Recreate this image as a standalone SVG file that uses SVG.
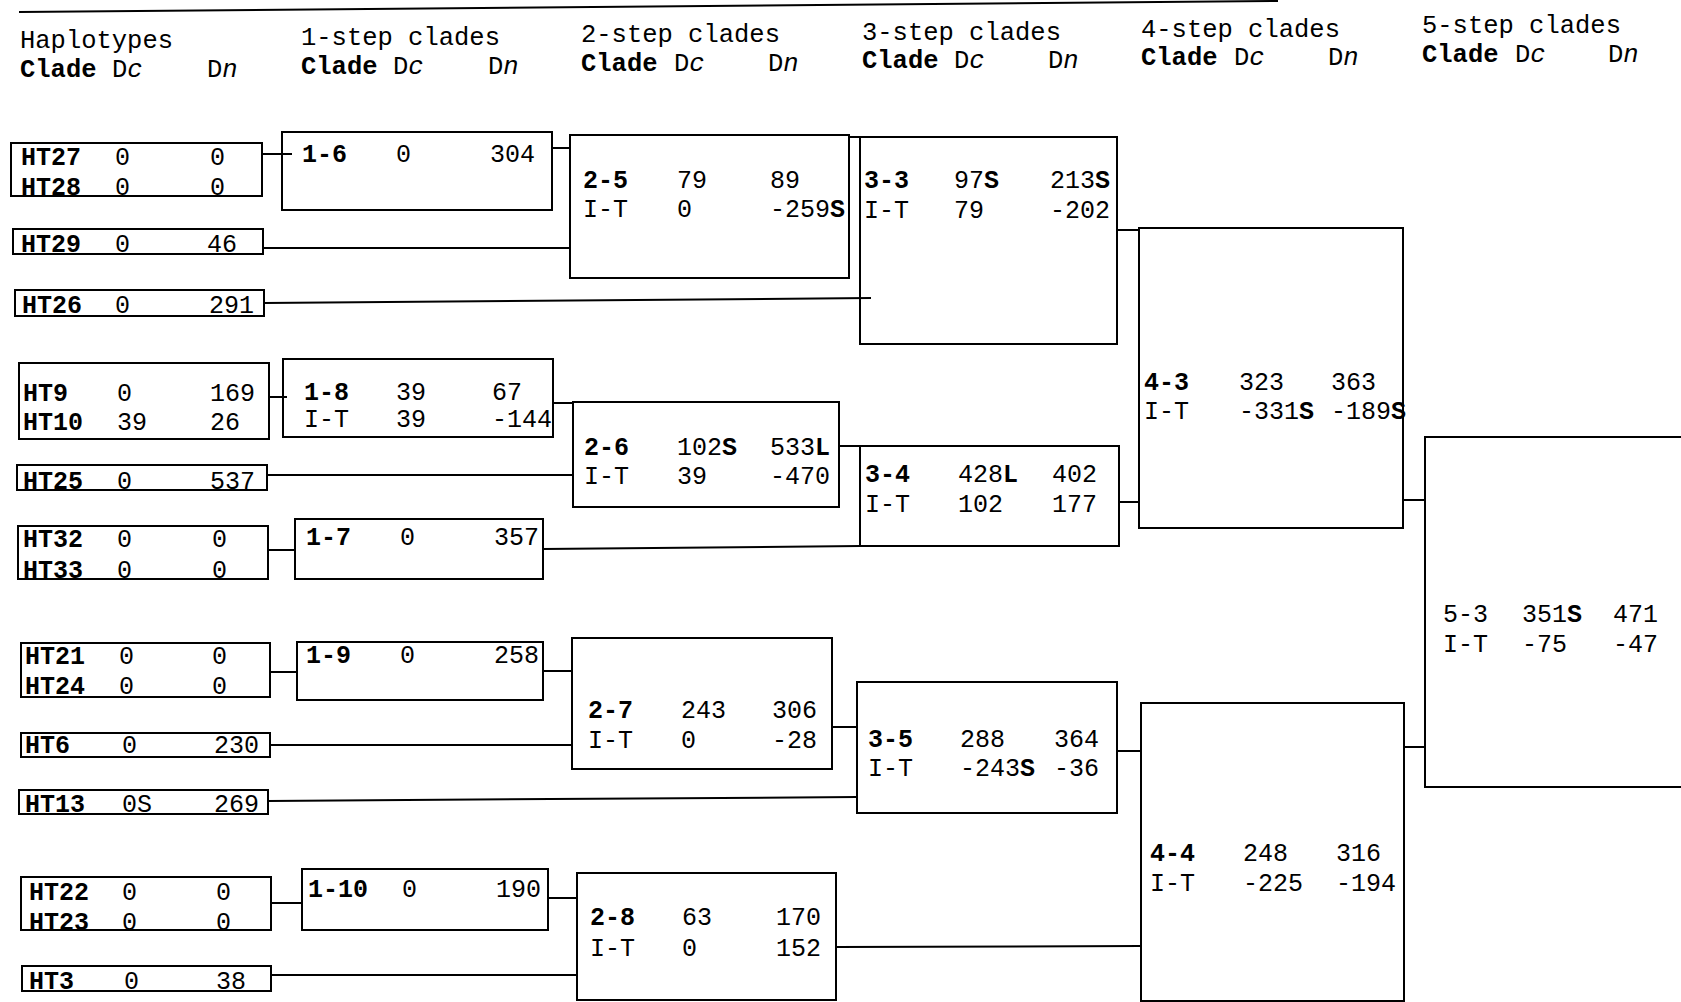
<svg xmlns="http://www.w3.org/2000/svg" width="1681" height="1002" viewBox="0 0 1681 1002">
<style>
  .bx{fill:none;stroke:#000;stroke-width:2}
  .cn line{stroke:#000;stroke-width:2}
  text{font-family:"Liberation Mono","Courier New",monospace;font-size:25px;fill:#000}
  .h{font-size:25.5px}
  .b{font-weight:bold}
  .i{font-style:italic}
</style>
<rect width="1681" height="1002" fill="#fff"/>
<line x1="19" y1="12" x2="1278" y2="1" stroke="#000" stroke-width="2"/>

<g id="headers">
  <text class="h" x="20" y="48">Haplotypes</text>
  <text class="h" y="77"><tspan class="b" x="20">Clade</tspan><tspan x="112">D<tspan class="i">c</tspan></tspan><tspan x="207">D<tspan class="i">n</tspan></tspan></text>
  <text class="h" x="301" y="45">1-step clades</text>
  <text class="h" y="74"><tspan class="b" x="301">Clade</tspan><tspan x="393">D<tspan class="i">c</tspan></tspan><tspan x="488">D<tspan class="i">n</tspan></tspan></text>
  <text class="h" x="581" y="42">2-step clades</text>
  <text class="h" y="71"><tspan class="b" x="581">Clade</tspan><tspan x="674">D<tspan class="i">c</tspan></tspan><tspan x="768">D<tspan class="i">n</tspan></tspan></text>
  <text class="h" x="862" y="40">3-step clades</text>
  <text class="h" y="68"><tspan class="b" x="862">Clade</tspan><tspan x="954">D<tspan class="i">c</tspan></tspan><tspan x="1048">D<tspan class="i">n</tspan></tspan></text>
  <text class="h" x="1141" y="37">4-step clades</text>
  <text class="h" y="65"><tspan class="b" x="1141">Clade</tspan><tspan x="1234">D<tspan class="i">c</tspan></tspan><tspan x="1328">D<tspan class="i">n</tspan></tspan></text>
  <text class="h" x="1422" y="33">5-step clades</text>
  <text class="h" y="62"><tspan class="b" x="1422">Clade</tspan><tspan x="1515">D<tspan class="i">c</tspan></tspan><tspan x="1608">D<tspan class="i">n</tspan></tspan></text>
</g>

<g id="connectors" class="cn">
  <line x1="262" y1="154" x2="292" y2="154"/>
  <line x1="269" y1="397" x2="287" y2="397"/>
  <line x1="268" y1="550" x2="295" y2="550"/>
  <line x1="270" y1="672" x2="297" y2="672"/>
  <line x1="271" y1="903" x2="302" y2="903"/>
  <line x1="552" y1="148" x2="570" y2="148"/>
  <line x1="263" y1="248" x2="570" y2="248"/>
  <line x1="553" y1="403" x2="574" y2="403"/>
  <line x1="267" y1="475" x2="573" y2="475"/>
  <line x1="543" y1="671" x2="572" y2="671"/>
  <line x1="270" y1="745" x2="572" y2="745"/>
  <line x1="548" y1="898" x2="577" y2="898"/>
  <line x1="271" y1="975" x2="577" y2="975"/>
  <line x1="849" y1="137" x2="872" y2="137"/>
  <line x1="264" y1="303" x2="871" y2="298"/>
  <line x1="839" y1="446" x2="864" y2="446"/>
  <line x1="543" y1="549" x2="860" y2="546"/>
  <line x1="832" y1="727" x2="858" y2="727"/>
  <line x1="268" y1="801" x2="857" y2="797"/>
  <line x1="1117" y1="230" x2="1139" y2="230"/>
  <line x1="1119" y1="502" x2="1140" y2="502"/>
  <line x1="1117" y1="751" x2="1141" y2="751"/>
  <line x1="836" y1="947" x2="1141" y2="946"/>
  <line x1="1404" y1="500" x2="1425" y2="500"/>
  <line x1="1404" y1="747" x2="1425" y2="747"/>
</g>

<!-- Haplotypes -->
<g id="n-HT27-HT28">
  <rect class="bx" x="11" y="143" width="251" height="53"/>
  <text y="165"><tspan class="b" x="21">HT27</tspan><tspan x="115">0</tspan><tspan x="210">0</tspan></text>
  <text y="195"><tspan class="b" x="21">HT28</tspan><tspan x="115">0</tspan><tspan x="210">0</tspan></text>
</g>
<g id="n-HT29">
  <rect class="bx" x="13" y="229" width="250" height="25"/>
  <text y="252"><tspan class="b" x="21">HT29</tspan><tspan x="115">0</tspan><tspan x="207">46</tspan></text>
</g>
<g id="n-HT26">
  <rect class="bx" x="15" y="290" width="249" height="26"/>
  <text y="313"><tspan class="b" x="22">HT26</tspan><tspan x="115">0</tspan><tspan x="209">291</tspan></text>
</g>
<g id="n-HT9-HT10">
  <rect class="bx" x="19" y="363" width="250" height="76"/>
  <text y="401"><tspan class="b" x="23">HT9</tspan><tspan x="117">0</tspan><tspan x="210">169</tspan></text>
  <text y="430"><tspan class="b" x="23">HT10</tspan><tspan x="117">39</tspan><tspan x="210">26</tspan></text>
</g>
<g id="n-HT25">
  <rect class="bx" x="17" y="465" width="250" height="25"/>
  <text y="489"><tspan class="b" x="23">HT25</tspan><tspan x="117">0</tspan><tspan x="210">537</tspan></text>
</g>
<g id="n-HT32-HT33">
  <rect class="bx" x="18" y="526" width="250" height="53"/>
  <text y="547"><tspan class="b" x="23">HT32</tspan><tspan x="117">0</tspan><tspan x="212">0</tspan></text>
  <text y="578"><tspan class="b" x="23">HT33</tspan><tspan x="117">0</tspan><tspan x="212">0</tspan></text>
</g>
<g id="n-HT21-HT24">
  <rect class="bx" x="21" y="643" width="249" height="54"/>
  <text y="664"><tspan class="b" x="25">HT21</tspan><tspan x="119">0</tspan><tspan x="212">0</tspan></text>
  <text y="694"><tspan class="b" x="25">HT24</tspan><tspan x="119">0</tspan><tspan x="212">0</tspan></text>
</g>
<g id="n-HT6">
  <rect class="bx" x="21" y="733" width="249" height="24"/>
  <text y="753"><tspan class="b" x="25">HT6</tspan><tspan x="122">0</tspan><tspan x="214">230</tspan></text>
</g>
<g id="n-HT13">
  <rect class="bx" x="19" y="790" width="249" height="24"/>
  <text y="812"><tspan class="b" x="25">HT13</tspan><tspan x="122">0S</tspan><tspan x="214">269</tspan></text>
</g>
<g id="n-HT22-HT23">
  <rect class="bx" x="21" y="877" width="250" height="53"/>
  <text y="900"><tspan class="b" x="29">HT22</tspan><tspan x="122">0</tspan><tspan x="216">0</tspan></text>
  <text y="930"><tspan class="b" x="29">HT23</tspan><tspan x="122">0</tspan><tspan x="216">0</tspan></text>
</g>
<g id="n-HT3">
  <rect class="bx" x="22" y="966" width="249" height="25"/>
  <text y="989"><tspan class="b" x="29">HT3</tspan><tspan x="124">0</tspan><tspan x="216">38</tspan></text>
</g>

<!-- 1-step -->
<g id="n-1-6">
  <rect class="bx" x="282" y="132" width="270" height="78"/>
  <text y="162"><tspan class="b" x="302">1-6</tspan><tspan x="396">0</tspan><tspan x="490">304</tspan></text>
</g>
<g id="n-1-8">
  <rect class="bx" x="283" y="359" width="270" height="78"/>
  <text y="400"><tspan class="b" x="304">1-8</tspan><tspan x="396">39</tspan><tspan x="492">67</tspan></text>
  <text y="427"><tspan x="304">I-T</tspan><tspan x="396">39</tspan><tspan x="492">-144</tspan></text>
</g>
<g id="n-1-7">
  <rect class="bx" x="295" y="519" width="248" height="60"/>
  <text y="545"><tspan class="b" x="306">1-7</tspan><tspan x="400">0</tspan><tspan x="494">357</tspan></text>
</g>
<g id="n-1-9">
  <rect class="bx" x="297" y="642" width="246" height="58"/>
  <text y="663"><tspan class="b" x="306">1-9</tspan><tspan x="400">0</tspan><tspan x="494">258</tspan></text>
</g>
<g id="n-1-10">
  <rect class="bx" x="302" y="869" width="246" height="61"/>
  <text y="897"><tspan class="b" x="308">1-10</tspan><tspan x="402">0</tspan><tspan x="496">190</tspan></text>
</g>

<!-- 2-step -->
<g id="n-2-5">
  <rect class="bx" x="570" y="135" width="279" height="143"/>
  <text y="188"><tspan class="b" x="583">2-5</tspan><tspan x="677">79</tspan><tspan x="770">89</tspan></text>
  <text y="217"><tspan x="583">I-T</tspan><tspan x="677">0</tspan><tspan x="770">-259<tspan class="b">S</tspan></tspan></text>
</g>
<g id="n-2-6">
  <rect class="bx" x="573" y="402" width="266" height="105"/>
  <text y="455"><tspan class="b" x="584">2-6</tspan><tspan x="677">102<tspan class="b">S</tspan></tspan><tspan x="770">533<tspan class="b">L</tspan></tspan></text>
  <text y="484"><tspan x="584">I-T</tspan><tspan x="677">39</tspan><tspan x="770">-470</tspan></text>
</g>
<g id="n-2-7">
  <rect class="bx" x="572" y="638" width="260" height="131"/>
  <text y="718"><tspan class="b" x="588">2-7</tspan><tspan x="681">243</tspan><tspan x="772">306</tspan></text>
  <text y="748"><tspan x="588">I-T</tspan><tspan x="681">0</tspan><tspan x="772">-28</tspan></text>
</g>
<g id="n-2-8">
  <rect class="bx" x="577" y="873" width="259" height="127"/>
  <text y="925"><tspan class="b" x="590">2-8</tspan><tspan x="682">63</tspan><tspan x="776">170</tspan></text>
  <text y="956"><tspan x="590">I-T</tspan><tspan x="682">0</tspan><tspan x="776">152</tspan></text>
</g>

<!-- 3-step -->
<g id="n-3-3">
  <rect class="bx" x="860" y="137" width="257" height="207"/>
  <text y="188"><tspan class="b" x="864">3-3</tspan><tspan x="954">97<tspan class="b">S</tspan></tspan><tspan x="1050">213<tspan class="b">S</tspan></tspan></text>
  <text y="218"><tspan x="864">I-T</tspan><tspan x="954">79</tspan><tspan x="1050">-202</tspan></text>
</g>
<g id="n-3-4">
  <rect class="bx" x="860" y="446" width="259" height="100"/>
  <text y="482"><tspan class="b" x="865">3-4</tspan><tspan x="958">428<tspan class="b">L</tspan></tspan><tspan x="1052">402</tspan></text>
  <text y="512"><tspan x="865">I-T</tspan><tspan x="958">102</tspan><tspan x="1052">177</tspan></text>
</g>
<g id="n-3-5">
  <rect class="bx" x="857" y="682" width="260" height="131"/>
  <text y="747"><tspan class="b" x="868">3-5</tspan><tspan x="960">288</tspan><tspan x="1054">364</tspan></text>
  <text y="776"><tspan x="868">I-T</tspan><tspan x="960">-243<tspan class="b">S</tspan></tspan><tspan x="1054">-36</tspan></text>
</g>

<!-- 4-step -->
<g id="n-4-3">
  <rect class="bx" x="1139" y="228" width="264" height="300"/>
  <text y="390"><tspan class="b" x="1144">4-3</tspan><tspan x="1239">323</tspan><tspan x="1331">363</tspan></text>
  <text y="419"><tspan x="1144">I-T</tspan><tspan x="1239">-331<tspan class="b">S</tspan></tspan><tspan x="1331">-189<tspan class="b">S</tspan></tspan></text>
</g>
<g id="n-4-4">
  <rect class="bx" x="1141" y="703" width="263" height="298"/>
  <text y="861"><tspan class="b" x="1150">4-4</tspan><tspan x="1243">248</tspan><tspan x="1336">316</tspan></text>
  <text y="891"><tspan x="1150">I-T</tspan><tspan x="1243">-225</tspan><tspan x="1336">-194</tspan></text>
</g>

<!-- 5-step -->
<g id="n-5-3">
  <rect class="bx" x="1425" y="437" width="270" height="350"/>
  <text y="622"><tspan x="1443">5-3</tspan><tspan x="1522">351<tspan class="b">S</tspan></tspan><tspan x="1613">471</tspan></text>
  <text y="652"><tspan x="1443">I-T</tspan><tspan x="1522">-75</tspan><tspan x="1613">-47</tspan></text>
</g>
</svg>
